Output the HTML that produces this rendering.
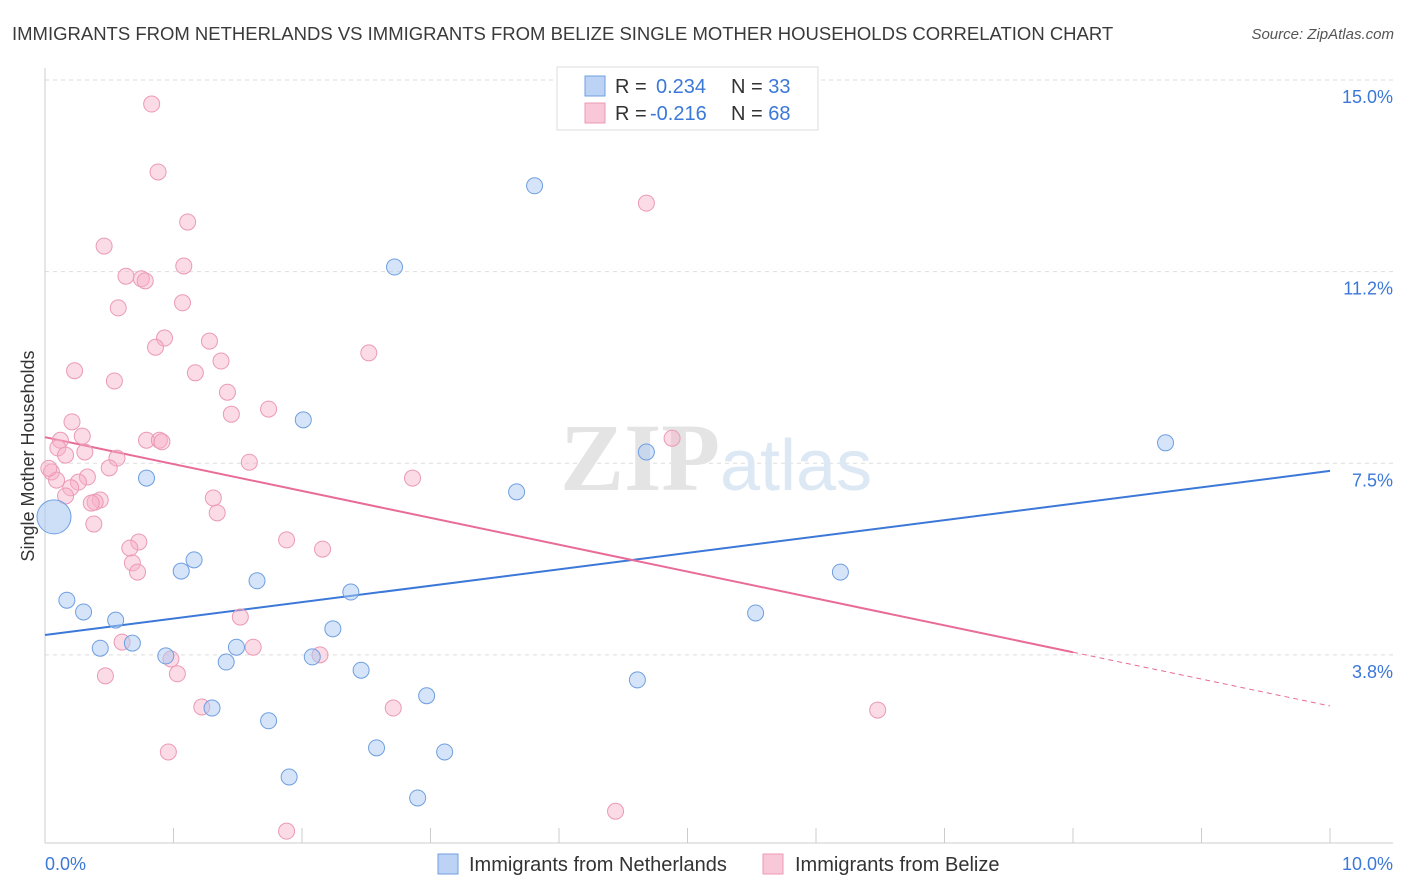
<!DOCTYPE html>
<html><head><meta charset="utf-8"><style>
body{margin:0;background:#fff;font-family:"Liberation Sans",sans-serif}
svg{display:block}
</style></head><body>
<svg width="1406" height="892" xmlns="http://www.w3.org/2000/svg">
<text x="12" y="40" font-size="18.5" fill="#3a3a3a">IMMIGRANTS FROM NETHERLANDS VS IMMIGRANTS FROM BELIZE SINGLE MOTHER HOUSEHOLDS CORRELATION CHART</text>
<text x="1394" y="39" font-size="15" fill="#555" text-anchor="end" font-style="italic">Source: ZipAtlas.com</text>
<g id="grid"></g>
<g id="axes"></g>
<text x="720" y="490" font-size="96" fill="#e4e4e4" text-anchor="end" font-family="Liberation Serif" font-weight="bold">ZIP</text>
<text x="720" y="490" font-size="72" fill="#dde8f5">atlas</text>
<text transform="translate(34,456) rotate(-90)" font-size="18" fill="#333" text-anchor="middle">Single Mother Households</text>
<g id="trends"></g>
<g id="points"></g>
<g>
<rect x="557" y="67" width="261" height="63" fill="#fff" stroke="#ddd"/>
<rect x="585" y="76" width="20" height="20" fill="#bcd3f5" stroke="#6f9fe0"/>
<rect x="585" y="103" width="20" height="20" fill="#f9c8d8" stroke="#ec99b4"/>
<text x="615" y="93" font-size="20" fill="#333">R = <tspan x="656" fill="#3b78d8">0.234</tspan><tspan x="731">N = </tspan><tspan fill="#3b78d8">33</tspan></text>
<text x="615" y="120" font-size="20" fill="#333">R = <tspan x="650" fill="#3b78d8">-0.216</tspan><tspan x="731">N = </tspan><tspan fill="#3b78d8">68</tspan></text>
</g>
<g>
<rect x="438" y="854" width="20" height="20" fill="#bcd3f5" stroke="#6f9fe0"/>
<text x="469" y="871" font-size="20" fill="#333">Immigrants from Netherlands</text>
<rect x="763" y="854" width="20" height="20" fill="#f9c8d8" stroke="#ec99b4"/>
<text x="795" y="871" font-size="20" fill="#333">Immigrants from Belize</text>
</g>
</svg>
<script>
const yTicks=[3.75,7.5,11.25,15];
const yTickLabels=["3.8%","7.5%","11.2%","15.0%"];
const xTickVals=[0,1,2,3,4,5,6,7,8,9,10];
const xEndLabels=["0.0%","10.0%"];
const blueX=[8.72,3.81,2.72,2.01,4.68,3.67,0.79,0.17,0.30,0.55,0.43,0.68,0.94,1.06,1.16,1.30,1.41,1.49,1.65,1.74,1.90,2.08,2.24,2.38,2.46,2.58,2.90,2.97,3.11,4.61,5.53,6.19];
const blueY=[7.90,12.93,11.34,8.35,7.72,6.94,7.21,4.82,4.59,4.43,3.88,3.98,3.73,5.39,5.61,2.71,3.61,3.90,5.20,2.46,1.36,3.71,4.26,4.98,3.45,1.93,0.95,2.95,1.85,3.26,4.57,5.37];
const pinkX=[0.83,0.88,1.11,0.46,4.68,0.63,0.75,0.78,1.08,1.07,0.57,0.93,0.86,1.28,2.52,1.37,0.23,1.17,0.54,1.42,1.74,1.45,0.21,0.29,0.12,0.79,0.89,0.91,4.88,0.10,0.31,0.16,0.56,1.59,0.50,0.05,0.33,0.09,0.26,2.86,0.20,0.16,0.43,0.39,0.36,1.31,1.34,0.38,0.73,1.88,0.66,2.16,0.68,0.72,1.52,0.60,1.62,0.98,2.14,1.03,0.47,1.22,2.71,6.48,0.96,4.44,1.88,0.03];
const pinkY=[14.53,13.20,12.22,11.75,12.59,11.16,11.11,11.07,11.36,10.64,10.54,9.95,9.77,9.89,9.66,9.50,9.31,9.27,9.11,8.89,8.56,8.46,8.31,8.03,7.95,7.95,7.95,7.92,7.99,7.80,7.72,7.66,7.60,7.52,7.41,7.33,7.23,7.17,7.13,7.21,7.02,6.86,6.78,6.74,6.72,6.82,6.53,6.31,5.96,6.00,5.84,5.82,5.55,5.37,4.49,4.00,3.90,3.67,3.75,3.38,3.34,2.73,2.71,2.67,1.85,0.69,0.30,7.40];
const bigBlue=[0.07,6.45];
const blueTrend=[4.14,7.35];
const pinkTrend=[8.01,2.75];
const pinkSolidEnd=8.0;
const X=v=>45+v*128.5, Y=v=>80+(15-v)*51.1;
const NS="http://www.w3.org/2000/svg";
function mk(tag,attrs,parent){const e=document.createElementNS(NS,tag);for(const k in attrs)e.setAttribute(k,attrs[k]);parent.appendChild(e);return e;}
const grid=document.getElementById('grid'),axes=document.getElementById('axes');
yTicks.forEach((t,i)=>{
 const l=mk('line',{x1:45,x2:1393,y1:Y(t),y2:Y(t),stroke:'#ddd','stroke-dasharray':'4,4'},grid);
 
 
 const tx=mk('text',{x:1393,y:Y(t)+23,'font-size':18,fill:'#3b78d8','text-anchor':'end'},axes);
 tx.textContent=yTickLabels[i];
 
 
});
const la=mk('line',{x1:45,x2:45,y1:68,y2:843,stroke:'#ccc'},axes);


const ba=mk('line',{x1:45,x2:1393,y1:843,y2:843,stroke:'#ccc'},axes);


xTickVals.forEach(t=>{
 const l=mk('line',{x1:X(t),x2:X(t),y1:828,y2:843,stroke:'#ccc'},axes);
 
 
});
const xl0=mk('text',{x:45,y:870,'font-size':18,fill:'#3b78d8'},axes);xl0.textContent=xEndLabels[0];


const xl1=mk('text',{x:1393,y:870,'font-size':18,fill:'#3b78d8','text-anchor':'end'},axes);xl1.textContent=xEndLabels[1];


const pts=document.getElementById('points');
pinkX.forEach((x,i)=>{
 const c=mk('circle',{cx:X(x),cy:Y(pinkY[i]),r:8,fill:'rgba(246,176,200,0.45)',stroke:'#eb9ab5','stroke-width':1},pts);
 
 
});
blueX.forEach((x,i)=>{
 const c=mk('circle',{cx:X(x),cy:Y(blueY[i]),r:8,fill:'rgba(172,202,242,0.5)',stroke:'#6f9fe0','stroke-width':1},pts);
 
 
});
const bb=mk('circle',{cx:X(bigBlue[0]),cy:Y(bigBlue[1]),r:17,fill:'rgba(172,202,242,0.6)',stroke:'#6f9fe0'},pts);


const tr=document.getElementById('trends');
const bt=mk('line',{x1:X(0),y1:Y(blueTrend[0]),x2:X(10),y2:Y(blueTrend[1]),stroke:'#3b78d8','stroke-width':2},tr);


const pAt=x=>pinkTrend[0]+(pinkTrend[1]-pinkTrend[0])*x/10;
const pt=mk('line',{x1:X(0),y1:Y(pinkTrend[0]),x2:X(pinkSolidEnd),y2:Y(pAt(pinkSolidEnd)),stroke:'#e86b98','stroke-width':2},tr);


const pd=mk('line',{x1:X(pinkSolidEnd),y1:Y(pAt(pinkSolidEnd)),x2:X(10),y2:Y(pinkTrend[1]),stroke:'#e86b98','stroke-width':1,'stroke-dasharray':'5,4'},tr);


</script>
</body></html>
